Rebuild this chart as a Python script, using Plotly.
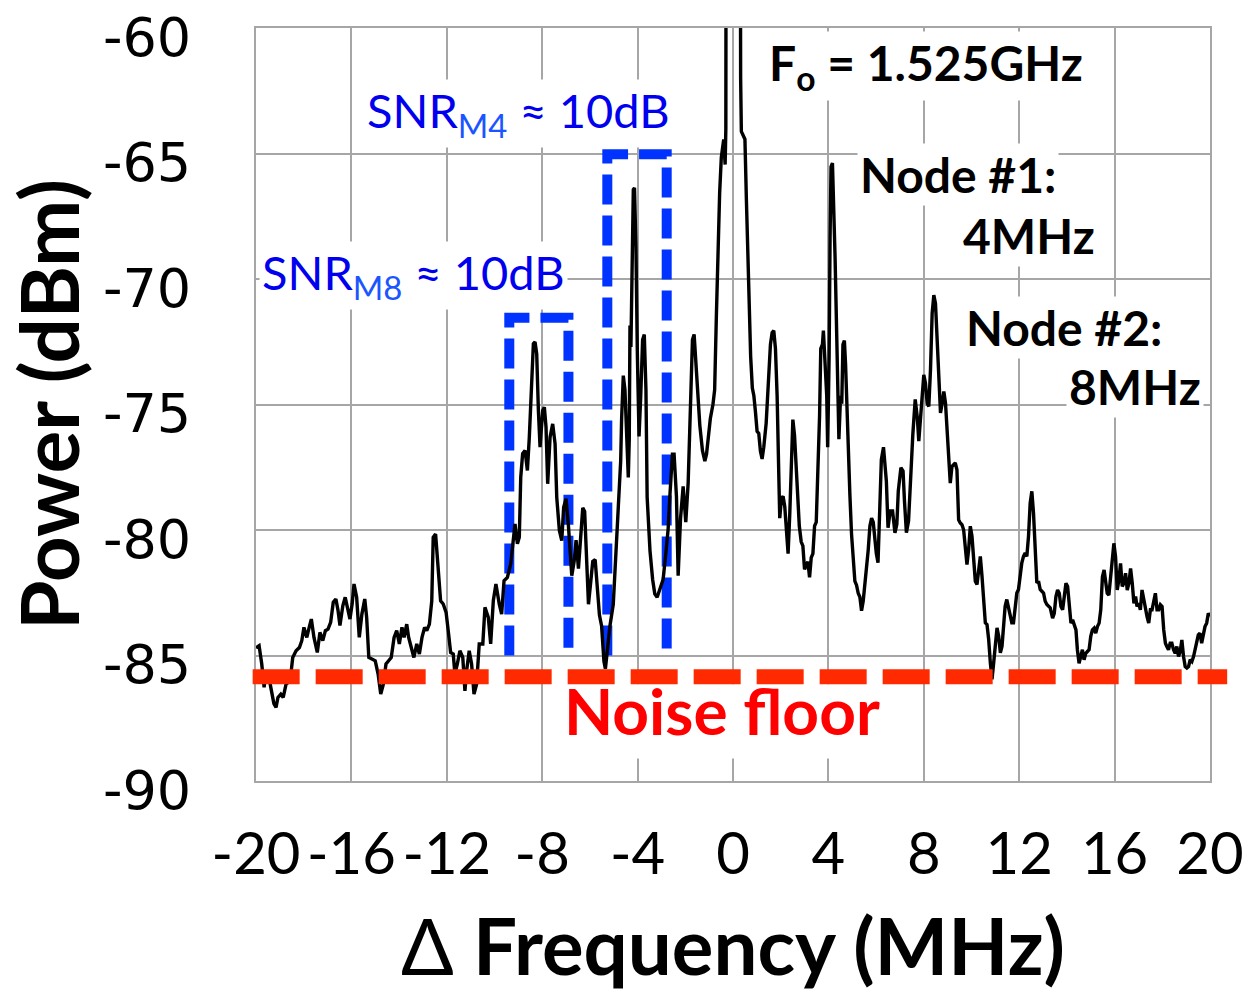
import plotly.graph_objects as go

# ---------------- data ----------------
freq = [
    -20.0, -19.97, -19.87, -19.76, -19.66, -19.58, -19.48, -19.38, -19.25, -19.16, -19.08,
    -18.96, -18.86, -18.74, -18.57, -18.46, -18.32, -18.18, -18.08, -17.99, -17.87,
    -17.77, -17.68, -17.57, -17.43, -17.32, -17.20, -17.09, -16.98, -16.87, -16.76,
    -16.65, -16.56, -16.48, -16.36, -16.26, -16.17, -16.06, -15.97, -15.89, -15.78,
    -15.67, -15.56, -15.44, -15.36, -15.27, -15.14, -15.00, -14.88, -14.77, -14.66,
    -14.55, -14.44, -14.33, -14.21, -14.10, -13.99, -13.88, -13.79, -13.68, -13.60,
    -13.49, -13.38, -13.26, -13.15, -13.04, -12.93,
    -12.84, -12.73, -12.63, -12.57, -12.47, -12.36, -12.26, -12.15, -12.03, -11.94,
    -11.84, -11.73, -11.66, -11.56, -11.45, -11.33, -11.24, -11.17, -11.06, -10.96,
    -10.86, -10.75, -10.64, -10.49, -10.40, -10.26, -10.16, -10.05, -9.94, -9.80,
    -9.70, -9.60, -9.46, -9.32, -9.24, -9.14, -9.04, -8.96, -8.90, -8.82,
    -8.72, -8.62, -8.54, -8.44, -8.37, -8.30, -8.23, -8.16, -8.09, -7.98,
    -7.91, -7.84, -7.77, -7.67, -7.56, -7.46, -7.39, -7.28, -7.18, -7.10,
    -7.00, -6.90,
    -6.76, -6.66, -6.58, -6.48, -6.38, -6.30, -6.22, -6.13, -6.06, -5.97,
    -5.88, -5.78, -5.69, -5.60, -5.51, -5.41, -5.35, -5.27, -5.16, -5.02,
    -4.91, -4.81, -4.71, -4.67, -4.60, -4.53, -4.46, -4.39, -4.35, -4.32,
    -4.28, -4.24, -4.18, -4.13, -4.07, -4.01, -3.94, -3.87, -3.79, -3.72,
    -3.65, -3.60, -3.48, -3.37, -3.28, -3.18, -3.07, -2.93, -2.82, -2.72,
    -2.65, -2.54, -2.47, -2.37, -2.30, -2.20, -2.09, -1.98, -1.88, -1.78,
    -1.70, -1.63, -1.53, -1.39, -1.28, -1.18, -1.11, -1.05, -0.95, -0.84,
    -0.77, -0.70, -0.63, -0.56, -0.49, -0.39, -0.33, -0.30, -0.28,
    0.29, 0.32, 0.35, 0.39, 0.46, 0.50, 0.56, 0.64, 0.74, 0.81,
    0.875, 0.94, 1.01, 1.08, 1.15, 1.22, 1.29, 1.39, 1.47, 1.57,
    1.64, 1.71, 1.78, 1.85, 1.92, 1.96, 2.03, 2.10, 2.17, 2.24,
    2.31, 2.38, 2.44, 2.51, 2.58, 2.65, 2.72, 2.78, 2.86, 2.93,
    3.00, 3.07, 3.14, 3.21, 3.28, 3.35, 3.42, 3.49, 3.56, 3.63,
    3.68, 3.75, 3.79, 3.86, 3.93, 3.97, 4.03, 4.07, 4.11, 4.17,
    4.22, 4.28, 4.35, 4.39, 4.44, 4.51, 4.56, 4.61, 4.67, 4.72,
    4.78, 4.83, 4.90, 4.97, 5.04, 5.11, 5.18, 5.25, 5.32, 5.39,
    5.46, 5.53, 5.60, 5.67, 5.74, 5.81, 5.88, 5.94, 6.01, 6.08,
    6.15, 6.22, 6.31,
    6.43, 6.50, 6.59, 6.69, 6.79, 6.87, 6.93, 7.04, 7.13, 7.19,
    7.27, 7.36, 7.44, 7.54, 7.64, 7.73, 7.79, 7.87, 7.96,
    8.00, 8.07, 8.14, 8.21, 8.28, 8.35, 8.42, 8.49, 8.56, 8.63,
    8.70, 8.77, 8.84, 8.91, 8.98, 9.05, 9.11, 9.18, 9.25, 9.32,
    9.39, 9.46, 9.53, 9.60, 9.67, 9.74, 9.81, 9.88, 9.95, 10.02,
    10.09, 10.16, 10.23, 10.30, 10.37, 10.44, 10.51, 10.58, 10.65, 10.72,
    10.79, 10.86, 10.93, 11.00, 11.07, 11.14, 11.21, 11.28, 11.34, 11.41,
    11.48, 11.55, 11.62, 11.69, 11.76, 11.83, 11.90, 11.97, 12.04, 12.11,
    12.18, 12.25, 12.32, 12.39, 12.46, 12.53, 12.60, 12.67, 12.74, 12.81,
    12.88, 12.95, 13.02, 13.09, 13.16, 13.30,
    13.40, 13.47, 13.54, 13.61, 13.68, 13.75, 13.82, 13.89, 13.96, 14.03,
    14.10, 14.17, 14.24, 14.31, 14.38, 14.44, 14.51, 14.58, 14.65, 14.72,
    14.79, 14.86, 14.93, 15.00, 15.07, 15.14, 15.21, 15.28, 15.35, 15.42,
    15.49, 15.56, 15.63, 15.69, 15.76, 15.83, 15.90, 15.97, 16.04, 16.11,
    16.18, 16.25, 16.32, 16.39, 16.46, 16.53, 16.60, 16.67, 16.74, 16.81,
    16.88, 16.94, 17.01, 17.08, 17.15, 17.22, 17.29, 17.36, 17.43, 17.50,
    17.57, 17.64, 17.71, 17.78, 17.85, 17.92, 17.99, 18.06, 18.13, 18.19,
    18.26, 18.33, 18.40, 18.47, 18.54, 18.61, 18.68, 18.75, 18.82, 18.89,
    18.96, 19.03, 19.10, 19.17, 19.24, 19.31, 19.38, 19.44, 19.51, 19.58,
    19.65, 19.72, 19.79, 19.86, 19.93, 20.00,
]

power = [
    -84.7, -84.68, -84.61, -85.33, -86.27, -85.61, -85.73, -86.27, -86.92, -87.07, -86.67,
    -86.54, -86.67, -86.14, -86.01, -85.08, -84.81, -84.68, -84.41, -83.88, -84.28,
    -83.88, -83.55, -84.28, -84.88, -84.08, -84.41, -84.01, -83.95, -83.68, -82.88,
    -82.75, -83.21, -83.81, -83.02, -82.68, -83.08, -83.55, -82.95, -82.15, -82.68,
    -84.28, -83.35, -82.75, -83.48, -85.08, -85.14, -85.21, -85.74, -86.54, -86.14,
    -85.34, -85.21, -85.08, -84.28, -84.01, -84.54, -83.88, -84.28, -83.75, -84.28,
    -84.68, -85.08, -84.54, -84.94, -84.28, -83.88,
    -84.01, -83.75, -82.82, -80.29, -80.16, -81.35, -82.82, -82.95, -83.28, -84.01,
    -84.88, -84.94, -85.74, -85.34, -84.81, -85.08, -86.41, -85.61, -84.81, -85.34,
    -86.54, -86.14, -84.54, -84.54, -83.08, -83.48, -84.54, -82.82, -82.15, -82.95,
    -83.35, -82.02, -81.89, -81.35, -80.55, -79.76, -80.55, -80.29, -77.90, -76.96,
    -76.83, -77.63, -76.30, -74.17, -72.58, -72.51, -72.98, -75.24, -76.70, -75.24,
    -75.11, -75.90, -78.16, -76.30, -75.77, -76.57, -78.70, -80.02, -80.42, -79.09,
    -78.75, -79.83,
    -81.82, -81.25, -80.40, -81.54, -80.11, -79.12, -79.26, -81.25, -82.96, -82.11,
    -81.25, -81.18, -82.39, -83.39, -83.82, -85.24, -85.53, -84.67, -83.82, -82.96,
    -80.83, -78.69, -77.26, -75.56, -73.85, -74.42, -76.70, -77.91, -76.41, -71.85,
    -72.71, -69.29, -66.44, -66.37, -68.72, -72.99, -76.27, -74.70, -72.42, -72.21,
    -74.42, -78.69, -80.83, -81.97, -82.54, -82.68, -82.39, -81.97, -80.97, -79.97,
    -78.69, -76.98, -76.98, -78.69, -81.82, -79.54, -78.26, -79.69, -78.12, -74.70,
    -72.42, -72.21, -73.70, -75.84, -76.84, -77.26, -76.98, -76.41, -75.56, -74.99,
    -74.42, -71.57, -68.72, -66.58, -65.16, -64.44, -65.44, -64.0, -45.0,
    -45.0, -62.0, -64.12, -64.20, -64.36, -64.43, -66.79, -69.94, -73.08, -74.34,
    -74.65, -75.28, -76.07, -76.15, -76.86, -77.17, -76.70, -75.75, -74.34, -72.61,
    -72.14, -72.06, -72.77, -74.65, -77.80, -79.53, -78.74, -78.66, -79.06, -80.31,
    -80.94, -79.37, -77.01, -75.60, -76.23, -77.33, -78.58, -79.84, -80.47, -80.63,
    -81.57, -81.42, -81.26, -81.89, -81.10, -80.94, -79.84, -79.69, -77.80, -75.44,
    -72.77, -72.61, -72.06, -73.40, -74.65, -76.70, -73.08, -68.36, -65.53, -65.38,
    -66.79, -69.15, -72.30, -74.65, -76.38, -74.65, -74.97, -72.61, -72.45, -73.40,
    -75.44, -77.01, -78.58, -80.16, -81.26, -82.04, -82.20, -82.52, -82.67, -83.22,
    -82.83, -82.20, -81.42, -80.79, -79.84, -79.53, -79.69, -80.31, -80.94, -81.30,
    -79.40, -77.20, -76.70,
    -78.05, -79.91, -79.24, -79.24, -80.11, -79.77, -78.45, -77.52, -77.65, -78.85,
    -80.11, -79.64, -78.05, -76.19, -74.80, -75.53, -76.46, -75.40, -74.34,
    -73.82, -74.15, -74.95, -75.08, -73.62, -71.37, -70.64, -70.97, -72.69, -74.02,
    -75.34, -74.95, -74.48, -74.95, -76.28, -77.33, -78.13, -77.47, -77.40, -77.33,
    -77.60, -79.59, -79.72, -79.79, -79.99, -80.78, -81.38, -80.78, -79.85, -80.25,
    -81.31, -82.04, -82.17, -81.58, -81.05, -81.84, -82.90, -83.70, -83.77, -84.36,
    -85.29, -85.95, -85.29, -84.36, -83.90, -84.23, -84.89, -84.63, -83.83, -83.04,
    -82.77, -83.04, -83.43, -83.70, -83.70, -83.17, -82.51, -82.37, -81.71, -81.31,
    -81.05, -80.92, -81.05, -80.25, -78.93, -78.46, -79.33, -80.92, -82.11, -82.04,
    -82.37, -82.44, -82.51, -82.84, -82.97, -83.10,
    -83.51, -83.32, -82.65, -82.39, -82.52, -83.05, -83.18, -82.65, -82.12, -82.25,
    -83.18, -83.71, -83.58, -83.85, -83.98, -84.77, -85.31, -85.04, -84.77, -85.17,
    -84.91, -84.84, -84.77, -84.24, -83.98, -83.91, -84.11, -83.85, -83.71, -83.18,
    -81.86, -81.59, -81.99, -82.52, -82.59, -81.99, -81.19, -80.53, -81.06, -82.39,
    -81.99, -81.33, -82.25, -82.12, -81.72, -82.39, -82.12, -81.53, -82.12, -82.92,
    -82.65, -83.05, -82.92, -83.18, -82.39, -82.79, -83.18, -83.45, -83.71, -83.18,
    -83.18, -82.79, -82.52, -83.18, -83.18, -82.98, -83.05, -83.98, -84.51, -84.64,
    -84.77, -84.51, -84.51, -84.77, -84.91, -84.64, -85.04, -84.84, -84.38, -85.04,
    -85.44, -85.50, -85.44, -85.17, -85.24, -85.04, -84.77, -84.51, -84.18, -84.11,
    -84.51, -84.18, -83.85, -83.71, -83.32, -83.45,
]

snr_m8_x = [-9.38, -9.38, -6.90, -6.90]
snr_m8_y = [-85.0, -71.54, -71.54, -85.0]
snr_m4_x = [-5.27, -5.27, -2.78, -2.78]
snr_m4_y = [-85.0, -65.03, -65.03, -85.0]
noise_floor = -85.85

x_ticks = [-20, -16, -12, -8, -4, 0, 4, 8, 12, 16, 20]
x_tick_text = ["-20", "-16", "-12", "-8", "-4", "0", "4", "8", "12", "16", "20"]
y_ticks = [-90, -85, -80, -75, -70, -65, -60]
y_tick_text = ["-90", "-85", "-80", "-75", "-70", "-65", "-60"]

# ---------------- figure ----------------
fig = go.Figure()

BLUE = "#0033ff"
fig.add_trace(go.Scatter(x=snr_m8_x, y=snr_m8_y, mode="lines",
                         line=dict(color=BLUE, width=10, dash="30px,11px"),
                         hoverinfo="skip", showlegend=False))
fig.add_trace(go.Scatter(x=snr_m4_x, y=snr_m4_y, mode="lines",
                         line=dict(color=BLUE, width=10, dash="30px,11px"),
                         hoverinfo="skip", showlegend=False))
fig.add_trace(go.Scatter(x=freq, y=power, mode="lines",
                         line=dict(color="black", width=3.4),
                         showlegend=False))

# white patch behind the "Noise floor" label (hides grid lines only)
fig.add_shape(type="rect", xref="x", yref="y", x0=-7.2, x1=6.2, y0=-89.1, y1=-86.15,
              layer="between", fillcolor="white", line=dict(width=0))

# noise floor (extends slightly beyond the plot area, as in the original)
fig.add_shape(type="line", xref="paper", yref="y", x0=-0.0035, x1=1.018,
              y0=noise_floor, y1=noise_floor, layer="above",
              line=dict(color="#ff2a00", width=15, dash="47px,16px"))

TXT = "Lato"
bold = dict(family=TXT, size=48, color="black", weight="bold")
blue_font = dict(family=TXT, size=47, color="#0000ee")

annotations = [
    dict(x=-9.0, y=-63.4, text="SNR<sub><span style='color:#1a55ff'>M4</span></sub> ≈ 10dB",
         font=blue_font, bgcolor="white"),
    dict(x=-13.38, y=-69.85, text="SNR<sub><span style='color:#1a55ff'>M8</span></sub> ≈ 10dB",
         font=blue_font, bgcolor="white"),
    dict(x=8.09, y=-61.5, text="F<sub>o</sub> = 1.525GHz", font=bold, bgcolor="white"),
    dict(x=9.45, y=-65.85, text="Node #1:", font=bold, bgcolor="white"),
    dict(x=12.39, y=-68.25, text="4MHz", font=bold, bgcolor="white"),
    dict(x=13.86, y=-71.95, text="Node #2:", font=bold, bgcolor="white"),
    dict(x=16.86, y=-74.3, text="8MHz", font=bold, bgcolor="white"),
    dict(x=-0.48, y=-87.18, text="Noise floor",
         font=dict(family=TXT, size=64, color="#ff0000", weight="bold")),
]
for a in annotations:
    a.update(xref="x", yref="y", showarrow=False,
             borderpad=2, xanchor="center", yanchor="middle")
    fig.add_annotation(**a)

GRID = "#a6a6a6"
fig.update_layout(
    width=1255, height=994, autosize=False,
    margin=dict(l=256, r=45, t=28, b=213),
    paper_bgcolor="white", plot_bgcolor="white",
    showlegend=False,
    xaxis=dict(
        range=[-20, 20], tickmode="array", tickvals=x_ticks, ticktext=x_tick_text,
        showgrid=True, gridcolor=GRID, gridwidth=2, zeroline=False,
        showline=True, linecolor=GRID, linewidth=2, mirror=True,
        automargin=False,
        ticks="", ticklabelstandoff=21, ticklabeloverflow="allow",
        tickfont=dict(family=TXT, size=58, color="black"),
        title=dict(text="<span style='font-weight:normal'>Δ</span> Frequency (MHz)",
                   font=dict(family=TXT, size=78, color="black", weight="bold"),
                   standoff=36),
    ),
    yaxis=dict(
        range=[-90, -60], tickmode="array", tickvals=y_ticks, ticktext=y_tick_text,
        showgrid=True, gridcolor=GRID, gridwidth=2, zeroline=False,
        showline=True, linecolor=GRID, linewidth=2, mirror=True,
        automargin=False,
        ticks="", ticklabelstandoff=52, ticklabelshift=9, ticklabeloverflow="allow",
        tickfont=dict(family="DejaVu Sans", size=54, color="black"),
        title=dict(text="Power (dBm)",
                   font=dict(family=TXT, size=80, color="black", weight="bold"),
                   standoff=14),
    ),
)

fig.write_html("out.html")
